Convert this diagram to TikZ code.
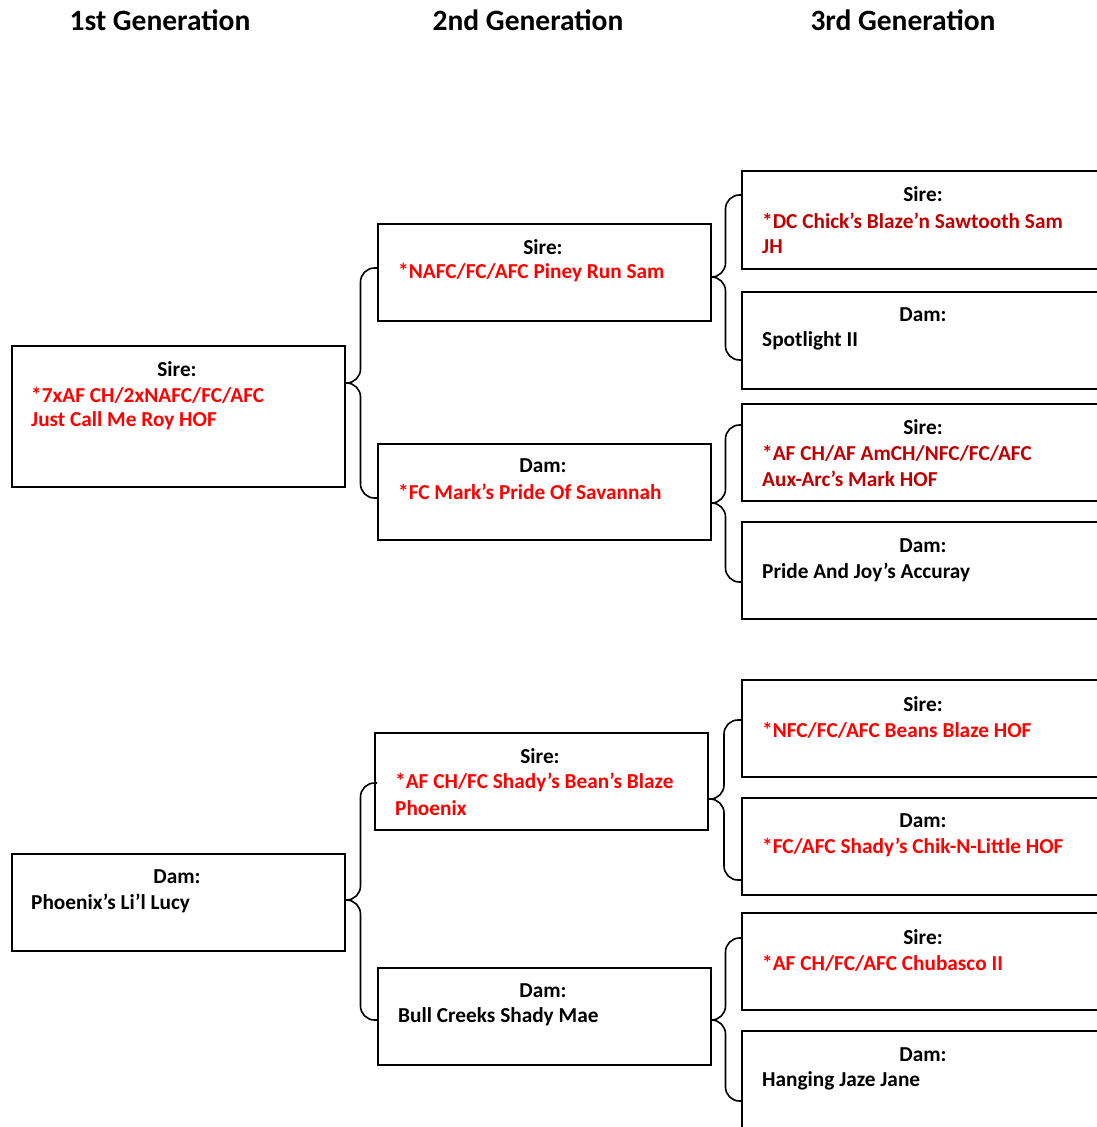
\documentclass[tikz,border=0pt]{standalone}
\usepackage{fontspec}
\setmainfont{Carlito}
\usetikzlibrary{calc}
\definecolor{brred}{HTML}{FF0000}
\definecolor{dkred}{HTML}{C00000}
\tikzset{
  box/.style={draw=black, line width=1.6pt, rectangle, inner sep=0pt, anchor=north west},
  hdr/.style={font=\fontsize{21.3}{26}\selectfont\bfseries, inner sep=0pt, anchor=center},
  nm/.style={font=\fontsize{21.3}{26}\selectfont\bfseries, inner sep=0pt, anchor=west},
  title/.style={font=\fontsize{29.5}{34}\selectfont\bfseries, inner sep=0pt},
  conn/.style={draw=black, line width=1.6pt, rounded corners=14pt},
}
\newcommand\pedbrace[3]{%
  \draw[conn] let \p1=(#1), \p2=(#2), \p3=(#3), \p4=($(#1)!0.5!(#2)$) in
    (\p2) -- (\x4,\y2) -- (\x4,\y1) -- (\p1);
  \draw[conn] let \p1=(#1), \p2=(#2), \p3=(#3), \p4=($(#1)!0.5!(#2)$) in
    (\p1) -- (\x4,\y1) -- (\x4,\y3) -- (\p3);}
\begin{document}
\begin{tikzpicture}[x=1pt,y=-1pt]
\useasboundingbox (0,0) rectangle (1097,1127);
\begin{scope}
\clip (0,0) rectangle (1097,1127);
% titles
\node[title] (t1) at (160,20) {1st Generation};
\node[title] (t2) at (528,20) {2nd Generation};
\node[title] (t3) at (903,20) {3rd Generation};
% generation 1
\node[box, minimum width=333pt, minimum height=141pt] (g1s) at (11,345) {};
\node[hdr] (g1sh) at (177,369) {Sire:};
\node[nm, text=brred] (g1sa) at (31,395) {*7xAF CH/2xNAFC/FC/AFC};
\node[nm, text=brred] (g1sb) at (31,421) {Just Call Me Roy HOF};
\node[box, minimum width=333pt, minimum height=97pt] (g1d) at (11,853) {};
\node[hdr] (g1dh) at (177,877) {Dam:};
\node[nm] (g1da) at (31,903) {Phoenix’s Li’l Lucy};
% generation 2
\node[box, minimum width=333pt, minimum height=97pt] (g2a) at (377,223) {};
\node[hdr] (g2ah) at (543,247) {Sire:};
\node[nm, text=brred] (g2aa) at (398,273) {*NAFC/FC/AFC Piney Run Sam};
\node[box, minimum width=333pt, minimum height=96pt] (g2b) at (377,443) {};
\node[hdr] (g2bh) at (543,466) {Dam:};
\node[nm, text=brred] (g2ba) at (398,492) {*FC Mark’s Pride Of Savannah};
\node[box, minimum width=333pt, minimum height=97pt] (g2c) at (374,732) {};
\node[hdr] (g2ch) at (540,756) {Sire:};
\node[nm, text=brred] (g2ca) at (395,782) {*AF CH/FC Shady’s Bean’s Blaze};
\node[nm, text=brred] (g2cb) at (395,808) {Phoenix};
\node[box, minimum width=333pt, minimum height=97pt] (g2d) at (377,967) {};
\node[hdr] (g2dh) at (543,991) {Dam:};
\node[nm] (g2da) at (398,1017) {Bull Creeks Shady Mae};
% generation 3
\node[box, minimum width=364pt, minimum height=98pt] (g3a) at (741,170) {};
\node[hdr] (g3ah) at (923,194) {Sire:};
\node[nm, text=dkred] (g3aa) at (762,221) {*DC Chick’s Blaze’n Sawtooth Sam};
\node[nm, text=dkred] (g3ab) at (762,247) {JH};
\node[box, minimum width=364pt, minimum height=97pt] (g3b) at (741,291) {};
\node[hdr] (g3bh) at (923,315) {Dam:};
\node[nm] (g3ba) at (762,341) {Spotlight II};
\node[box, minimum width=364pt, minimum height=97pt] (g3c) at (741,403) {};
\node[hdr] (g3ch) at (923,427) {Sire:};
\node[nm, text=dkred] (g3ca) at (762,453) {*AF CH/AF AmCH/NFC/FC/AFC};
\node[nm, text=dkred] (g3cb) at (762,479) {Aux-Arc’s Mark HOF};
\node[box, minimum width=364pt, minimum height=97pt] (g3d) at (741,521) {};
\node[hdr] (g3dh) at (923,546) {Dam:};
\node[nm] (g3da) at (762,572) {Pride And Joy’s Accuray};
\node[box, minimum width=364pt, minimum height=97pt] (g3e) at (741,679) {};
\node[hdr] (g3eh) at (923,704) {Sire:};
\node[nm, text=brred] (g3ea) at (762,730) {*NFC/FC/AFC Beans Blaze HOF};
\node[box, minimum width=364pt, minimum height=97pt] (g3f) at (741,797) {};
\node[hdr] (g3fh) at (923,821) {Dam:};
\node[nm, text=brred] (g3fa) at (762,847) {*FC/AFC Shady’s Chik-N-Little HOF};
\node[box, minimum width=364pt, minimum height=97pt] (g3g) at (741,912) {};
\node[hdr] (g3gh) at (923,937) {Sire:};
\node[nm, text=brred] (g3ga) at (762,963) {*AF CH/FC/AFC Chubasco II};
\node[box, minimum width=364pt, minimum height=110pt] (g3h) at (741,1030) {};
\node[hdr] (g3hh) at (923,1055) {Dam:};
\node[nm] (g3ha) at (762,1081) {Hanging Jaze Jane};
% brace coordinates
\coordinate (b1t) at (344,383); \coordinate (b1a) at (377,268); \coordinate (b1b) at (377,498);
\coordinate (b2t) at (710,277); \coordinate (b2a) at (741,195); \coordinate (b2b) at (741,360);
\coordinate (b3t) at (710,503); \coordinate (b3a) at (741,425); \coordinate (b3b) at (741,582);
\coordinate (b4t) at (344,900); \coordinate (b4a) at (377,783); \coordinate (b4b) at (377,1020);
\coordinate (b5t) at (707,799); \coordinate (b5a) at (741,720); \coordinate (b5b) at (741,880);
\coordinate (b6t) at (710,1020); \coordinate (b6a) at (741,938); \coordinate (b6b) at (741,1101);
\pedbrace{b1t}{b1a}{b1b}
\pedbrace{b2t}{b2a}{b2b}
\pedbrace{b3t}{b3a}{b3b}
\pedbrace{b4t}{b4a}{b4b}
\pedbrace{b5t}{b5a}{b5b}
\pedbrace{b6t}{b6a}{b6b}
\end{scope}
\end{tikzpicture}
\end{document}
